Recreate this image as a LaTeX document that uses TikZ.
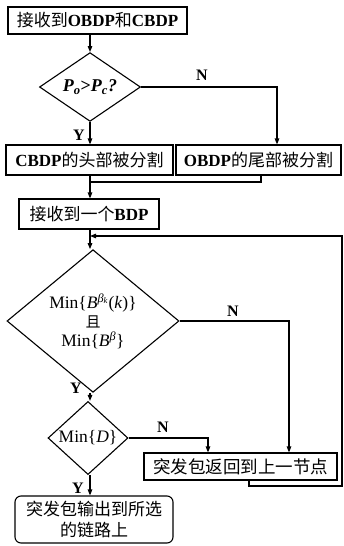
\documentclass[tikz,border=0pt]{standalone}
\usepackage{fontspec}
\setmainfont{Liberation Serif}
\newfontfamily\cjk{Noto Sans CJK SC}
\usetikzlibrary{shapes.geometric,arrows.meta}
\begin{document}
\begin{tikzpicture}[x=1pt,y=-1pt,
  every node/.style={font=\fontsize{17}{19}\selectfont},
  box/.style={draw,line width=1.1pt,rectangle,inner sep=0pt,align=center},
  rbox/.style={box,rounded corners=6pt},
  dec/.style={draw,line width=1.1pt,diamond,inner sep=0pt,align=center},
  conn/.style={line width=1.1pt},
  arr/.style={conn,-{Triangle[length=6pt,width=4.5pt]}},
  lab/.style={font=\fontsize{16}{18}\selectfont\bfseries,inner sep=1pt}
]
\useasboundingbox (0,0) rectangle (343,546);

\node[box,minimum width=179pt,minimum height=27pt] (b1) at (97.5,20.5)
  {{\cjk 接收到}\textbf{OBDP}{\cjk 和}\textbf{CBDP}};
\node[dec,minimum width=101pt,minimum height=60pt,font=\fontsize{18}{20}\selectfont\bfseries\itshape] (d1) at (90,87)
  {P\textsubscript{o}{\upshape>}P\textsubscript{c}?};
\node[box,minimum width=167pt,minimum height=30pt] (b2) at (89.5,160)
  {\textbf{CBDP}{\cjk 的头部被分割}};
\node[box,minimum width=165pt,minimum height=30pt] (b3) at (258.5,160)
  {\textbf{OBDP}{\cjk 的尾部被分割}};
\node[box,minimum width=140pt,minimum height=30pt] (b4) at (89,214)
  {{\cjk 接收到一个}\textbf{BDP}};
\node[dec,minimum width=172pt,minimum height=119pt,font=\fontsize{17.5}{19}\selectfont] (d2) at (93,321)
  {Min\{\textit{B}\textsuperscript{\textit{β}\textsubscript{\textit{k}}}(\textit{k})\}\\
   {\cjk\fontsize{15}{17}\selectfont 且}\\
   Min\{\textit{B}\textsuperscript{\textit{β}}\}};
\node[dec,minimum width=80pt,minimum height=70pt,font=\fontsize{17.5}{20}\selectfont] (d3) at (88,438)
  {Min\{\textit{D}\}};
\node[box,minimum width=193pt,minimum height=27pt,font=\cjk\fontsize{17.5}{19}\selectfont] (b5) at (240.5,466.5)
  {突发包返回到上一节点};
\node[rbox,minimum width=158pt,minimum height=47pt,font=\cjk\fontsize{17}{21}\selectfont] (b6) at (94,519.5)
  {突发包输出到所选\\的链路上};

\coordinate (c1) at (277,0);
\coordinate (c2) at (261,0);
\coordinate (m) at (90,182);
\coordinate (c3) at (289,0);
\coordinate (c4) at (208,0);
\coordinate (c5) at (249,0);
\coordinate (c6) at (342,486);
\coordinate (fb) at (90,236);

\draw[arr] (d1.north |- b1.south) -- (d1.north);
\draw[arr] (d1.east) -| (c1 |- b3.north);
\draw[arr] (d1.south) -- (d1.south |- b2.north);
\draw[conn] (c2 |- b3.south) |- (m);
\draw[arr] (m |- b2.south) -- (m |- b4.north);
\draw[arr] (m |- b4.south) -- (m |- d2.north);
\draw[arr] (d2.east) -| (c3 |- b5.north);
\draw[arr] (m |- d2.south) -- (m |- d3.north);
\draw[arr] (d3.east) -| (c4 |- b5.north);
\draw[arr] (m |- d3.south) -- (m |- b6.north);
\draw[arr] (c5 |- b5.south) |- (c6) |- (fb);

\node[lab] at (202,75) {N};
\node[lab] at (79,135) {Y};
\node[lab] at (233,311) {N};
\node[lab] at (76,388) {Y};
\node[lab] at (163,427) {N};
\node[lab] at (78,488) {Y};
\end{tikzpicture}
\end{document}
